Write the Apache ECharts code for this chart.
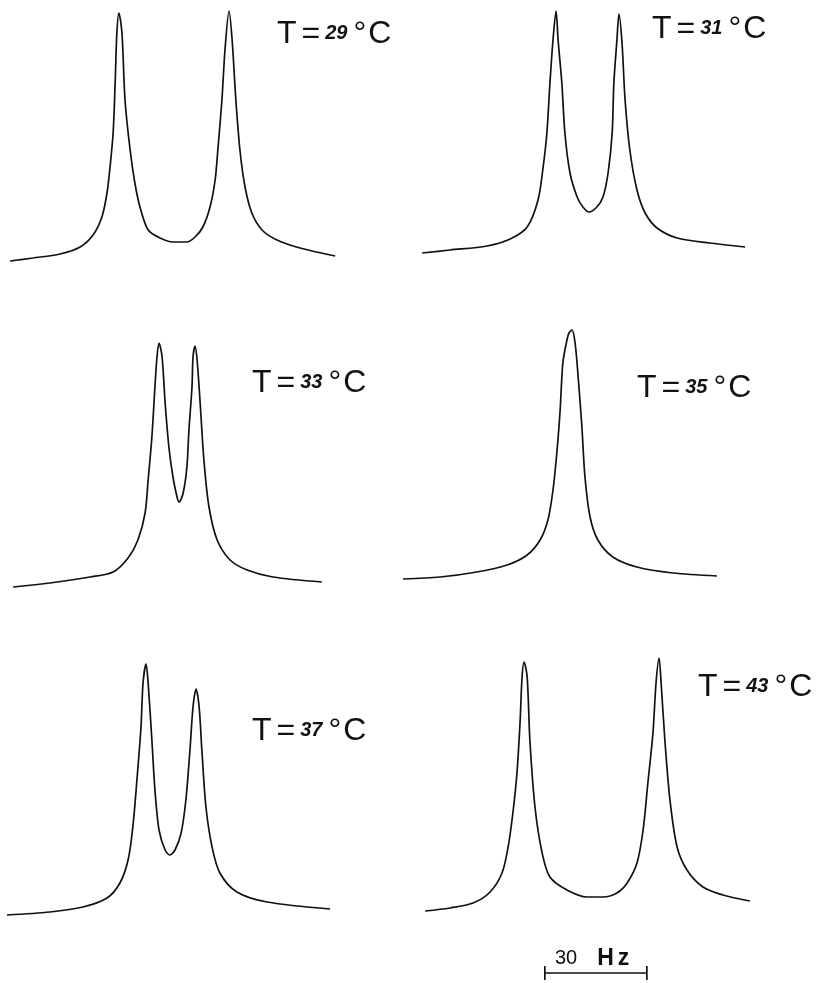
<!DOCTYPE html>
<html>
<head>
<meta charset="utf-8">
<script src="https://cdn.jsdelivr.net/npm/echarts@6/dist/echarts.min.js"></script>
<style>html,body{margin:0;padding:0;background:#fff}#c{width:819px;height:983px}</style>
</head>
<body>
<div id="c"></div>
<script>
// Frequency offset (Hz) vs. signal intensity (a.u.)
const t29 = [[1.5,9],[8.2,12],[16.2,16],[22.1,23],[25.9,35],[28.5,53],[30.0,77],[30.9,103],[31.8,137],[32.4,187],[32.9,237],[33.5,257],[34.4,237],[35.3,170],[36.8,120],[38.2,87],[39.7,63],[42.1,40],[45.6,32],[49.4,28],[53.5,28],[55.9,33],[58.2,43],[60.3,63],[61.8,90],[62.6,120],[63.8,170],[64.7,220],[65.9,259],[66.8,230],[67.9,170],[69.1,120],[70.6,83],[72.6,57],[75.6,40],[80.0,30],[86.8,22],[97.1,14]];
const t31 = [[6.5,17],[14.7,20],[25.6,24],[32.4,31],[37.4,43],[40.6,70],[42.1,103],[43.2,137],[44.1,187],[45.0,230],[45.9,259],[46.5,230],[47.6,187],[48.5,137],[50.0,97],[52.1,73],[53.8,63],[55.6,58],[57.9,63],[59.7,73],[61.2,97],[62.4,137],[62.9,187],[63.8,230],[64.4,256],[65.3,227],[66.2,170],[67.6,120],[69.7,80],[72.1,57],[75.6,42],[81.5,32],[91.2,27],[101.5,23]];
const t33 = [[2.4,3],[13.2,7],[25.0,13],[31.8,18],[36.2,32],[39.1,50],[41.2,77],[42.1,110],[43.2,153],[44.1,203],[44.7,233],[45.3,247],[46.2,233],[47.1,187],[48.2,143],[49.4,113],[50.6,93],[51.2,88],[52.4,97],[53.5,123],[54.1,160],[55.0,203],[55.3,233],[55.9,244],[56.5,230],[57.4,187],[58.5,130],[60.0,83],[62.4,50],[66.2,30],[71.2,20],[78.8,13],[93.2,8]];
const t35 = [[0.9,11],[11.8,13],[22.6,18],[31.5,25],[37.4,35],[41.2,50],[43.5,70],[45.0,100],[46.2,140],[47.1,180],[47.9,227],[49.1,250],[49.7,257],[50.6,260],[51.5,247],[52.4,213],[53.5,163],[54.4,113],[55.9,73],[58.2,50],[62.6,33],[69.7,23],[80.3,17],[93.2,14]];
const t37 = [[0.6,5],[13.2,8],[22.9,13],[30.0,22],[33.8,37],[36.2,60],[37.6,93],[38.8,140],[40.0,193],[40.6,237],[41.5,256],[42.1,237],[43.2,180],[44.1,130],[45.3,90],[47.1,70],[48.5,65],[50.0,70],[51.8,87],[53.2,120],[54.4,170],[55.3,213],[56.2,231],[57.1,213],[57.9,170],[59.1,113],[60.9,73],[63.2,47],[68.2,28],[77.1,18],[95.6,11]];
const t43 = [[7.4,9],[14.7,12],[21.5,17],[26.5,28],[30.0,47],[31.8,73],[33.2,107],[34.4,147],[35.3,197],[35.9,243],[36.5,258],[37.4,243],[38.2,180],[39.7,113],[41.8,67],[44.1,43],[49.1,30],[55.0,23],[59.7,23],[63.8,27],[66.8,37],[69.7,57],[71.5,90],[72.9,137],[74.4,187],[75.3,237],[76.2,262],[76.8,237],[77.9,180],[79.4,120],[81.5,73],[84.4,50],[89.1,33],[95.0,25],[102.9,19]];
// scale bar: 30 Hz
const scaleStart = 42.6;
const scaleWidthHz = 30;
const temps = ['29', '31', '33', '35', '37', '43'];

const traces = [t29, t31, t33, t35, t37, t43];
const colLeft = [5, 400];
const rowTop = [0, 320, 650];
const font = "'Liberation Sans', Arial, sans-serif";

const grids = [], xAxes = [], yAxes = [], series = [];
traces.forEach((d, i) => {
  const col = i % 2, row = Math.floor(i / 2);
  grids.push({left: colLeft[col], top: rowTop[row], width: 357, height: 270});
  xAxes.push({type: 'value', gridIndex: i, min: 0, max: 105, show: false});
  yAxes.push({type: 'value', gridIndex: i, min: 0, max: 270, show: false});
  series.push({type: 'line', xAxisIndex: i, yAxisIndex: i, data: d, showSymbol: false,
    smooth: 0.3, lineStyle: {color: '#111', width: 1.7}, silent: true});
});
// scale bar grid
grids.push({left: 400, top: 966, width: 357, height: 14});
xAxes.push({type: 'value', gridIndex: 6, min: 0, max: 105, show: false});
yAxes.push({type: 'value', gridIndex: 6, min: -1, max: 1, show: false});
const sEnd = scaleStart + scaleWidthHz;
series.push({type: 'line', xAxisIndex: 6, yAxisIndex: 6, showSymbol: false, silent: true,
  data: [[scaleStart, 1], [scaleStart, -1], [scaleStart, 0], [sEnd, 0], [sEnd, 1], [sEnd, -1]],
  lineStyle: {color: '#111', width: 1.7}});

const labelPos = [[277, 18], [652, 13], [252, 367], [637, 372], [252, 715], [698, 671]];
const rich = {
  t: {fontSize: 32, fontFamily: font, fontWeight: 'normal', color: '#111'},
  e: {fontSize: 32, fontFamily: font, fontWeight: 'normal', color: '#111', padding: [0, 5, 0, 5]},
  n: {fontSize: 20, fontFamily: font, fontWeight: 'bold', fontStyle: 'italic', color: '#111', padding: [0, 6, 2, 0]},
  d: {fontSize: 32, fontFamily: font, fontWeight: 'normal', color: '#111', padding: [0, 2, 0, 0]}
};
const titles = temps.map((t, i) => ({
  left: labelPos[i][0], top: labelPos[i][1], padding: 0,
  text: '{t|T}{e|=}{n|' + t + '}{d|°}{t|C}',
  textStyle: {fontWeight: 'normal', rich: rich}
}));
titles.push({left: 555, top: 947, padding: 0, text: '{a|30}{b|H}{c|z}',
  textStyle: {fontWeight: 'normal', rich: {
    a: {fontSize: 20, fontFamily: font, fontWeight: 'normal', color: '#111', padding: [0, 20, 0, 0]},
    b: {fontSize: 23, fontFamily: font, fontWeight: 'bold', color: '#111', padding: [0, 4, 0, 0]},
    c: {fontSize: 23, fontFamily: font, fontWeight: 'bold', color: '#111'}
  }}});

const chart = echarts.init(document.getElementById('c'), null, {renderer: 'canvas'});
chart.setOption({
  backgroundColor: '#fff',
  animation: false,
  title: titles,
  grid: grids,
  xAxis: xAxes,
  yAxis: yAxes,
  series: series
});
</script>
</body>
</html>
